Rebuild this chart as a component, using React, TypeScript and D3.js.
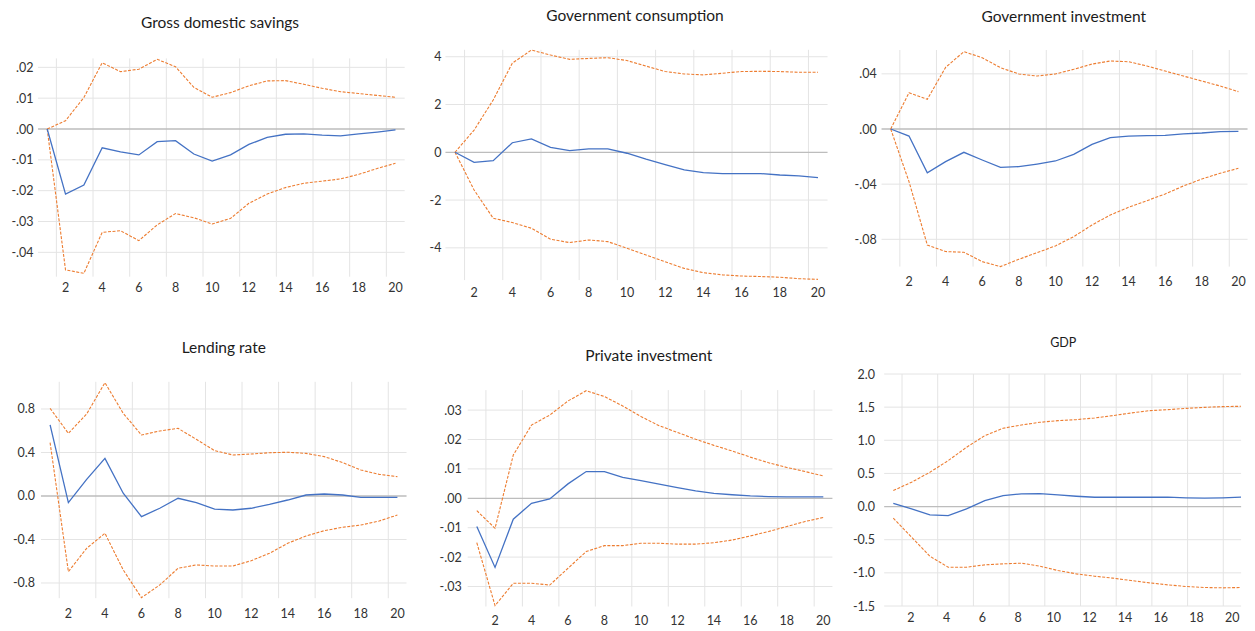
import React from "react";
import * as d3 from "d3";

// Forecast horizon (periods after the shock) and the labelled periods on the x axis
const periods = [1, 2, 3, 4, 5, 6, 7, 8, 9, 10, 11, 12, 13, 14, 15, 16, 17, 18, 19, 20];
const periodTicks = [2, 4, 6, 8, 10, 12, 14, 16, 18, 20];

// Gross domestic savings
const gdsResponse = [0, -0.0211, -0.0182, -0.0061, -0.0074, -0.0084, -0.0041, -0.0038, -0.0081, -0.0104, -0.0084, -0.005, -0.0027, -0.0017, -0.0016, -0.002, -0.0022, -0.0016, -0.001, -0.0003];
const gdsUpper = [0, 0.0027, 0.0102, 0.0215, 0.0186, 0.0194, 0.0226, 0.0202, 0.0135, 0.0103, 0.0118, 0.014, 0.0156, 0.0157, 0.0145, 0.0132, 0.0121, 0.0115, 0.0109, 0.0103];
const gdsLower = [0, -0.0457, -0.0468, -0.0335, -0.033, -0.0362, -0.0311, -0.0274, -0.0288, -0.0308, -0.029, -0.0241, -0.0211, -0.019, -0.0176, -0.0169, -0.0162, -0.0147, -0.0128, -0.0111];
const gdsTicks = [-0.04, -0.03, -0.02, -0.01, 0, 0.01, 0.02];
const gdsTickLabels = ["-.04", "-.03", "-.02", "-.01", ".00", ".01", ".02"];

// Government consumption
const gcResponse = [0, -0.42, -0.35, 0.4, 0.56, 0.21, 0.07, 0.14, 0.14, -0.04, -0.29, -0.52, -0.74, -0.85, -0.89, -0.89, -0.89, -0.95, -0.99, -1.06];
const gcUpper = [0, 0.93, 2.19, 3.73, 4.28, 4.07, 3.89, 3.93, 3.96, 3.84, 3.61, 3.38, 3.28, 3.24, 3.31, 3.38, 3.39, 3.38, 3.35, 3.35];
const gcLower = [0, -1.58, -2.76, -2.94, -3.18, -3.64, -3.78, -3.67, -3.74, -4.02, -4.3, -4.58, -4.86, -5.04, -5.13, -5.18, -5.2, -5.23, -5.29, -5.32];
const gcTicks = [-4, -2, 0, 2, 4];
const gcTickLabels = ["-4", "-2", "0", "2", "4"];

// Government investment
const giResponse = [0, -0.0051, -0.0317, -0.0237, -0.0169, -0.0225, -0.0278, -0.0273, -0.0254, -0.0232, -0.0184, -0.0111, -0.0063, -0.0051, -0.0048, -0.0046, -0.0036, -0.0029, -0.0019, -0.0017];
const giUpper = [0, 0.0263, 0.0215, 0.0447, 0.0561, 0.0517, 0.0445, 0.0399, 0.0384, 0.0399, 0.0433, 0.0471, 0.0493, 0.0488, 0.0457, 0.042, 0.0384, 0.0348, 0.0312, 0.0271];
const giLower = [0, -0.0382, -0.0841, -0.0889, -0.0894, -0.0962, -0.0998, -0.0945, -0.0897, -0.0848, -0.0781, -0.0696, -0.0624, -0.0568, -0.052, -0.0471, -0.0413, -0.0363, -0.0321, -0.0285];
const giTicks = [-0.08, -0.04, 0, 0.04];
const giTickLabels = ["-.08", "-.04", ".00", ".04"];

// Lending rate
const lrResponse = [0.653, -0.061, 0.153, 0.346, 0.025, -0.19, -0.113, -0.021, -0.061, -0.12, -0.129, -0.113, -0.077, -0.037, 0.009, 0.018, 0.009, -0.012, -0.012, -0.012];
const lrUpper = [0.806, 0.576, 0.754, 1.042, 0.76, 0.561, 0.598, 0.622, 0.521, 0.417, 0.377, 0.386, 0.398, 0.402, 0.392, 0.362, 0.307, 0.239, 0.199, 0.178];
const lrLower = [0.49, -0.696, -0.481, -0.343, -0.68, -0.935, -0.818, -0.665, -0.634, -0.644, -0.644, -0.595, -0.527, -0.435, -0.368, -0.319, -0.288, -0.267, -0.23, -0.175];
const lrTicks = [-0.8, -0.4, 0, 0.4, 0.8];
const lrTickLabels = ["-0.8", "-0.4", "0.0", "0.4", "0.8"];

// Private investment
const piResponse = [-0.0096, -0.0235, -0.0071, -0.0017, -0.0002, 0.0049, 0.0091, 0.0091, 0.0071, 0.006, 0.0048, 0.0036, 0.0025, 0.0017, 0.0012, 0.0008, 0.0006, 0.0005, 0.0005, 0.0005];
const piUpper = [-0.0042, -0.0102, 0.0147, 0.0249, 0.0283, 0.0331, 0.0366, 0.0346, 0.0314, 0.0278, 0.0247, 0.0224, 0.0201, 0.018, 0.0161, 0.014, 0.0121, 0.0105, 0.0091, 0.0076];
const piLower = [-0.0151, -0.0365, -0.0289, -0.0289, -0.0295, -0.0238, -0.0181, -0.0161, -0.0161, -0.0153, -0.0153, -0.0156, -0.0156, -0.0151, -0.0142, -0.0128, -0.0113, -0.0096, -0.0079, -0.0065];
const piTicks = [-0.03, -0.02, -0.01, 0, 0.01, 0.02, 0.03];
const piTickLabels = ["-.03", "-.02", "-.01", ".00", ".01", ".02", ".03"];

// GDP
const gdpResponse = [0.05, -0.035, -0.126, -0.136, -0.035, 0.09, 0.166, 0.191, 0.196, 0.176, 0.156, 0.141, 0.141, 0.141, 0.141, 0.141, 0.131, 0.126, 0.131, 0.141];
const gdpUpper = [0.241, 0.367, 0.518, 0.693, 0.894, 1.07, 1.181, 1.231, 1.271, 1.296, 1.312, 1.337, 1.372, 1.412, 1.447, 1.462, 1.482, 1.497, 1.508, 1.513];
const gdpLower = [-0.176, -0.462, -0.749, -0.915, -0.915, -0.879, -0.864, -0.854, -0.899, -0.965, -1.015, -1.05, -1.08, -1.116, -1.151, -1.181, -1.206, -1.221, -1.226, -1.221];
const gdpTicks = [-1.5, -1.0, -0.5, 0, 0.5, 1.0, 1.5, 2.0];
const gdpTickLabels = ["-1.5", "-1.0", "-0.5", "0.0", "0.5", "1.0", "1.5", "2.0"];

const FONT = "Lato, 'Open Sans', 'Noto Sans', sans-serif";
const BLUE = "#4472C4";
const ORANGE = "#ED7D31";

type Panel = {
  title: string;
  response: number[];
  upper: number[];
  lower: number[];
  ticks: number[];
  tickLabels: string[];
  yDomain: [number, number];
  // layout
  axisX: [number, number]; // pixel of period 1 and period 20 on the axis
  dataX: [number, number]; // pixel of period 1 and period 20 for the lines
  yRange: [number, number]; // bottom, top
  yLabelRight: number;
  xLabelBaseline: number;
  titleX: number;
  titleY: number;
  titleSize: number;
};

const panels: Panel[] = [
  {
    title: "Gross domestic savings",
    response: gdsResponse, upper: gdsUpper, lower: gdsLower,
    ticks: gdsTicks, tickLabels: gdsTickLabels,
    yDomain: [-0.0479, 0.0229],
    axisX: [47.2, 395.5], dataX: [47.2, 395.5],
    yRange: [276.7, 58.4],
    yLabelRight: 33.5, xLabelBaseline: 291.5,
    titleX: 220, titleY: 28.3, titleSize: 15.5,
  },
  {
    title: "Government consumption",
    response: gcResponse, upper: gcUpper, lower: gcLower,
    ticks: gcTicks, tickLabels: gcTickLabels,
    yDomain: [-5.35, 4.29],
    axisX: [455, 818], dataX: [455, 818],
    yRange: [280.1, 49.8],
    yLabelRight: 441.5, xLabelBaseline: 297,
    titleX: 635, titleY: 20.7, titleSize: 15.5,
  },
  {
    title: "Government investment",
    response: giResponse, upper: giUpper, lower: giLower,
    ticks: giTicks, tickLabels: giTickLabels,
    yDomain: [-0.0998, 0.0573],
    axisX: [890.7, 1238.4], dataX: [890.7, 1238.4],
    yRange: [266.6, 50.0],
    yLabelRight: 876.7, xLabelBaseline: 286,
    titleX: 1063.8, titleY: 21.7, titleSize: 15.5,
  },
  {
    title: "Lending rate",
    response: lrResponse, upper: lrUpper, lower: lrLower,
    ticks: lrTicks, tickLabels: lrTickLabels,
    yDomain: [-0.94, 1.05],
    axisX: [50.1, 397.4], dataX: [50.1, 397.4],
    yRange: [598.2, 381.8],
    yLabelRight: 35, xLabelBaseline: 617.5,
    titleX: 223.8, titleY: 353.3, titleSize: 15.5,
  },
  {
    title: "Private investment",
    response: piResponse, upper: piUpper, lower: piLower,
    ticks: piTicks, tickLabels: piTickLabels,
    yDomain: [-0.0368, 0.0368],
    axisX: [476.8, 823.3], dataX: [476.8, 823.3],
    yRange: [606.5, 390.1],
    yLabelRight: 461.7, xLabelBaseline: 624.5,
    titleX: 648.8, titleY: 360.7, titleSize: 15.5,
  },
  {
    title: "GDP",
    response: gdpResponse, upper: gdpUpper, lower: gdpLower,
    ticks: gdpTicks, tickLabels: gdpTickLabels,
    yDomain: [-1.5, 2.0],
    axisX: [893.1, 1232.2], dataX: [893.3, 1241],
    yRange: [606, 374],
    yLabelRight: 875, xLabelBaseline: 621.5,
    titleX: 1063.3, titleY: 347.3, titleSize: 12.5,
  },
];

const TICK_SIZE = 12.5;

function ImpulsePanel({ p }: { p: Panel }) {
  const axisX = d3.scaleLinear().domain([1, 20]).range(p.axisX);
  const dataX = d3.scaleLinear().domain([1, 20]).range(p.dataX);
  const y = d3.scaleLinear().domain(p.yDomain).range(p.yRange);
  const [bottom, top] = p.yRange;
  const left = axisX(0.5);
  const right = axisX(20.5);

  const line = (vals: number[]) =>
    d3.line<number>()
      .x((_, i) => dataX(periods[i]))
      .y((v) => y(v))(vals) || "";

  return (
    <g>
      <text
        x={p.titleX}
        y={p.titleY}
        textAnchor="middle"
        fontFamily={FONT}
        fontSize={p.titleSize}
        fill="#1b1b1b"
      >
        {p.title}
      </text>

      {/* vertical gridlines between every second pair of periods */}
      {periodTicks.map((t) => (
        <line
          key={"vg" + t}
          x1={axisX(t - 0.5)}
          x2={axisX(t - 0.5)}
          y1={top}
          y2={bottom}
          stroke="#e4e4e4"
          strokeWidth={1}
        />
      ))}

      {/* horizontal gridlines */}
      {p.ticks.map((t) => (
        <line
          key={"hg" + t}
          x1={left}
          x2={right}
          y1={y(t)}
          y2={y(t)}
          stroke={t === 0 ? "#bdbdbd" : "#e4e4e4"}
          strokeWidth={t === 0 ? 1.3 : 1}
        />
      ))}

      {/* y tick labels */}
      {p.ticks.map((t, i) => (
        <text
          key={"yl" + t}
          x={p.yLabelRight}
          y={y(t) + TICK_SIZE * 0.36}
          textAnchor="end"
          fontFamily={FONT}
          fontSize={TICK_SIZE}
          fill="#333"
        >
          {p.tickLabels[i]}
        </text>
      ))}

      {/* x tick labels */}
      {periodTicks.map((t) => (
        <text
          key={"xl" + t}
          x={axisX(t)}
          y={p.xLabelBaseline}
          textAnchor="middle"
          fontFamily={FONT}
          fontSize={TICK_SIZE}
          fill="#333"
        >
          {t}
        </text>
      ))}

      <path d={line(p.upper)} fill="none" stroke={ORANGE} strokeWidth={1.1} strokeDasharray="3,1.5" />
      <path d={line(p.lower)} fill="none" stroke={ORANGE} strokeWidth={1.1} strokeDasharray="3,1.5" />
      <path d={line(p.response)} fill="none" stroke={BLUE} strokeWidth={1.3} />
    </g>
  );
}

export default function App() {
  return (
    <svg
      width={1255}
      height={631}
      viewBox="0 0 1255 631"
      style={{ position: "absolute", left: 0, top: 0, background: "#fff", display: "block" }}
    >
      <rect x={0} y={0} width={1255} height={631} fill="#fff" />
      {panels.map((p) => (
        <ImpulsePanel key={p.title} p={p} />
      ))}
    </svg>
  );
}
